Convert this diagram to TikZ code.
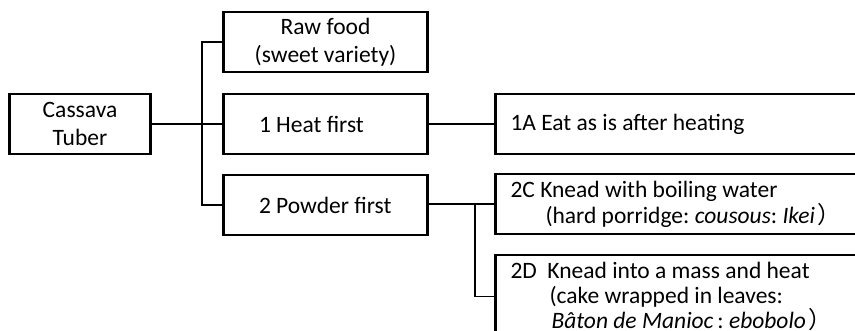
\documentclass[tikz,border=0pt]{standalone}
\usepackage{fontspec}
\setmainfont{Carlito}
\newfontfamily\cjk{Noto Sans CJK JP}
\frenchspacing
\tikzset{
  box/.style={draw, line width=2.4pt, inner sep=0pt, minimum width=204pt, minimum height=60pt, align=center},
  longbox/.style={draw, line width=2.4pt, inner xsep=15pt, inner ysep=0pt, text width=355pt, minimum height=60pt, align=left,
    execute at begin node={\spaceskip=0pt\xspaceskip=0pt}},
  link/.style={line width=1.2pt}
}
\newcommand{\lft}[1]{\makebox[133pt][l]{#1}}
\newcommand{\wideparen}{\kern3pt{\cjk ）}}

\begin{document}
\begin{tikzpicture}[x=1pt, y=-1pt, font=\fontsize{23.5}{28}\selectfont]
        \clip (0,0) rectangle (855,330);
        \fill[white] (0,0) rectangle (855,330);
        % first column
        \node[box, minimum width=141pt] (tuber) at (80,124) {Cassava\\Tuber};
        % second column
        \node[box] (raw) at (325.5,42) {Raw food\\(sweet variety)};
        \node[box] (heat) at (325.5,124) {\lft{1 Heat first}};
        \node[box] (powder) at (325.5,205) {\lft{2 Powder first}};
        % third column, cut at the right edge
        \node[longbox] (eat) at (688,124) {1A Eat as is after heating};
        \node[longbox, font=\fontsize{23.5}{26}\selectfont] (boil) at (688,204) {2C Knead with boiling water\\\hspace*{35pt}(hard porridge: \textit{cousous}: \textit{Ikei}\wideparen};
        \node[longbox, minimum height=82pt, anchor=north, font=\fontsize{23.5}{25}\selectfont] (mass) at (688,254) {2D\ \ Knead into a mass and heat\\\hspace*{39pt}(cake wrapped in leaves:\\\hspace*{41pt}\textit{B\^aton de Manioc}\,: \textit{ebobolo}\wideparen};
        % connectors
        \coordinate (fork) at (202,124);
        \coordinate (split) at (475,204);
        \draw[link] (tuber.east) -- (heat.west);
        \draw[link] (raw.west) -| (fork) |- (powder.west);
        \draw[link] (heat.east) -- (eat.west);
        \draw[link] (powder.east |- split) -- (boil.west);
        \draw[link] (split) |- (mass.west);
\end{tikzpicture}
\end{document}
